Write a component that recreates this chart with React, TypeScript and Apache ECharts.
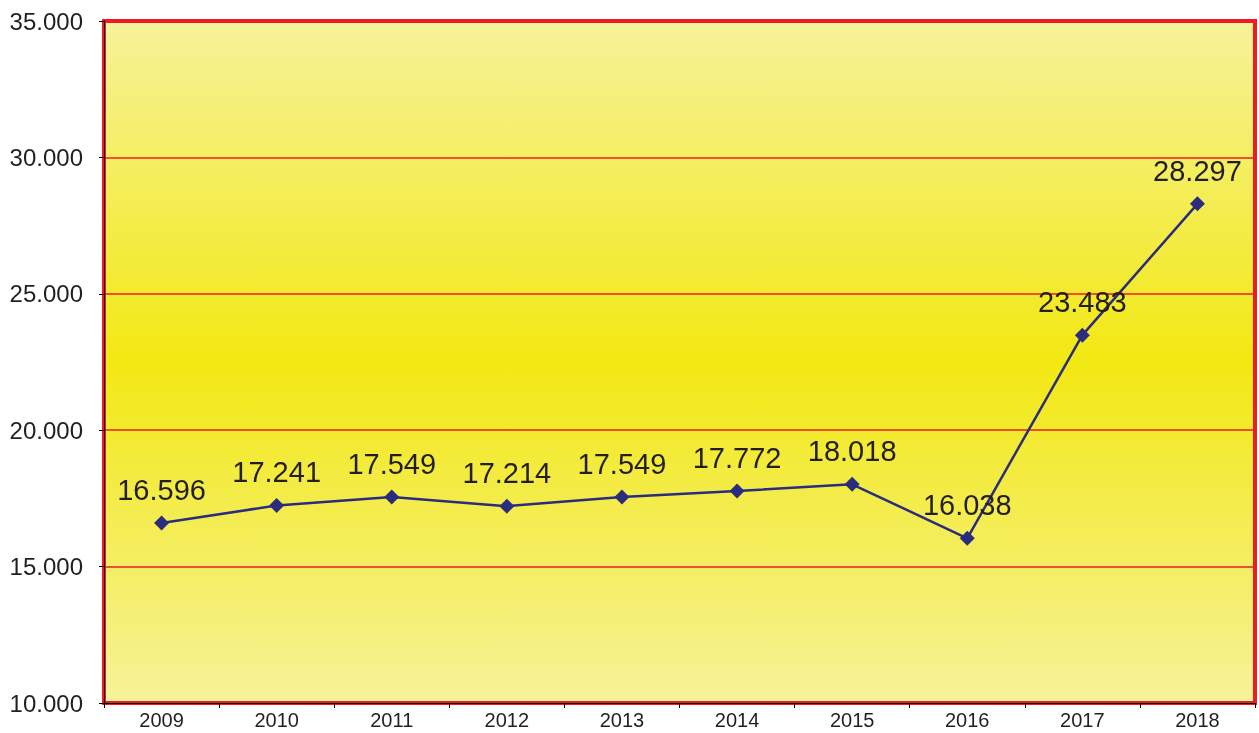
import React, { useEffect, useRef } from "react";
import * as echarts from "echarts";

const years = ["2009", "2010", "2011", "2012", "2013", "2014", "2015", "2016", "2017", "2018"];
const values = [16596, 17241, 17549, 17214, 17549, 17772, 18018, 16038, 23483, 28297];

const fmt = (v: number) => {
  const s = Math.round(v).toString();
  return s.replace(/\B(?=(\d{3})+(?!\d))/g, ".");
};

export default function App() {
  const ref = useRef<HTMLDivElement>(null);
  useEffect(() => {
    if (!ref.current) return;
    const chart = echarts.init(ref.current, null, { renderer: "svg" });
    chart.setOption({
      animation: false,
      grid: {
        left: 104,
        right: 4,
        top: 21,
        bottom: 30,
        show: true,
        borderColor: "#ED1C24",
        borderWidth: 4,
        backgroundColor: new echarts.graphic.LinearGradient(0, 0, 0, 1, [
          { offset: 0, color: "#F6F29A" },
          { offset: 0.5, color: "#F2E813" },
          { offset: 1, color: "#F6F29A" },
        ]),
      },
      xAxis: {
        type: "category",
        data: years,
        boundaryGap: true,
        axisLine: { show: true, lineStyle: { color: "#000", width: 1 } },
        axisTick: { show: true, length: 5, lineStyle: { color: "#000" } },
        axisLabel: { color: "#231F20", fontSize: 20, fontFamily: "Liberation Sans, Arial, sans-serif", margin: 7 },
        splitLine: { show: false },
      },
      yAxis: {
        type: "value",
        min: 10000,
        max: 35000,
        interval: 5000,
        axisLine: { show: true, lineStyle: { color: "#000", width: 1 } },
        axisTick: { show: true, length: 5, lineStyle: { color: "#000" } },
        axisLabel: {
          color: "#231F20",
          fontSize: 24,
          fontFamily: "Liberation Sans, Arial, sans-serif",
          margin: 21,
          formatter: (v: number) => fmt(v),
        },
        splitLine: { show: true, lineStyle: { color: "#ED1C24", width: 1.6 } },
      },
      series: [
        {
          type: "line",
          data: values,
          symbol: "diamond",
          symbolSize: 15,
          itemStyle: { color: "#2A2C7E" },
          lineStyle: { color: "#2A2C7E", width: 2.5 },
          label: {
            show: true,
            position: "top",
            distance: 11,
            color: "#231F20",
            fontSize: 29,
            fontFamily: "Liberation Sans, Arial, sans-serif",
            formatter: (p: any) => fmt(p.value),
          },
        },
      ],
    });
    return () => chart.dispose();
  }, []);
  return <div ref={ref} style={{ position: "fixed", left: 0, top: 0, width: 1259, height: 733 }} />;
}
